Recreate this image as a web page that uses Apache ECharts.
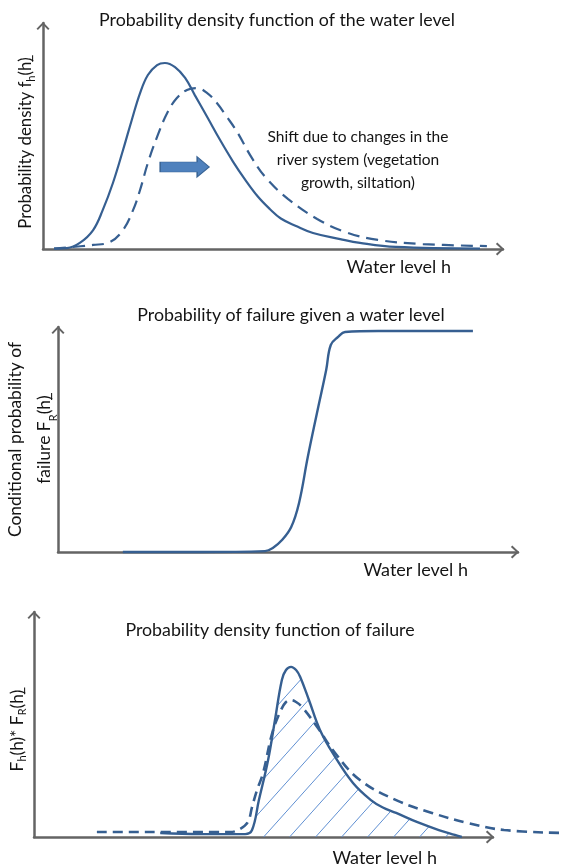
<!DOCTYPE html>
<html><head><meta charset="utf-8">
<script src="https://cdn.jsdelivr.net/npm/echarts@6/dist/echarts.min.js"></script>
<style>html,body{margin:0;padding:0;background:#fff}#c{width:564px;height:868px}</style>
</head><body><div id="c"></div>
<script>
// All values in arbitrary units: water level 0-100, vertical quantity 0-100.
// Panel 1: probability density of the water level (current and shifted)
const pdfCurrent = [[2.4,0.2],[5.2,0.4],[8.0,2.7],[10.9,8.4],[13.0,17.3],[15.2,29.2],[17.4,43.8],[19.3,57.1],[21.1,69.0],[22.8,77.0],[24.8,81.4],[26.5,82.3],[28.7,80.5],[30.9,75.7],[33.0,68.1],[35.7,58.4],[38.5,48.2],[41.3,38.7],[43.9,30.8],[46.7,23.2],[49.3,17.7],[51.7,13.5],[55.0,10.2],[58.7,7.1],[64.6,4.4],[68.9,2.7],[76.7,0.9],[95,0.2]];
const pdfShifted = [[2.4,0.2],[10.9,1.8],[14.6,3.1],[17.4,8.4],[19.6,17.3],[21.1,26.1],[22.8,38.1],[24.8,49.6],[27.0,60.2],[29.1,66.8],[31.3,70.4],[33.5,71.2],[35.7,69.0],[37.8,64.6],[40.0,58.4],[42.2,51.8],[45.4,40.3],[48.5,31.4],[53.3,22.1],[59.6,13.3],[65.7,7.5],[72.8,4.0],[82.6,2.2],[96.5,1.3]];
// Panel 2: conditional probability of failure (fragility curve)
const fragility = [[14.1,0],[30.9,0],[45.0,0.4],[46.7,1.8],[48.7,5.3],[50.7,11.1],[52.4,21.8],[54.3,42.2],[56.3,61.8],[58.3,80.9],[59.3,92.0],[60.9,95.6],[62.4,97.8],[69.6,98.2],[90.2,98.2]];
// Panel 3: probability density of failure (current and shifted)
const failCurrent = [[27.5,1.8],[36.2,1.3],[46.0,1.3],[47.5,3.1],[49.0,16.4],[51.0,34.2],[52.5,52.0],[54.0,69.8],[54.9,74.2],[56.0,75.6],[57.1,74.2],[58.0,71.1],[59.9,60.9],[62.3,47.6],[65.6,35.6],[69.5,24.0],[73.4,16.4],[76.0,13.1],[78.9,10.7],[83.4,6.7],[88.2,3.1],[91.7,0.9],[93.2,0]];
const failShifted = [[13.7,2.2],[42.7,2.2],[44.9,3.6],[46.6,6.7],[47.5,13.3],[48.6,20.9],[49.9,28.4],[51.9,46.2],[53.8,56.4],[54.9,60.0],[56.0,60.9],[57.1,60.0],[58.4,57.8],[61.7,48.9],[65.6,37.3],[71.0,25.3],[78.9,16.4],[86.7,10.7],[94.6,6.2],[102.4,3.1],[114.8,1.8]];
// Text
const titles = ['Probability density function of the water level','Probability of failure given a water level','Probability density function of failure'];
const shiftNote = ['Shift due to changes in the','river system (vegetation','growth, siltation)'];
const xName = 'Water level h';
const yNames = ['Probability density f{s|h}(h\u0332)','Conditional probability of\nfailure F{s|R}(h\u0332)','F{s|h}(h)* F{s|R}(h\u0332)'];

const FONT = 'Lato, "Open Sans", sans-serif';
const TXT = '#141414';
const AXC = '#646464';
const CURVE = '#365f91';
const chevron = 'path://M6.5,0 L13,6.8 L11.6,8.2 L6.5,2.8 L1.4,8.2 L0,6.8 Z';
const blockArrow = 'path://M0,5 L37,5 L37,0 L49,10 L37,20 L37,15 L0,15 Z';

function hatch() {
  const c = document.createElement('canvas'); c.width = 26; c.height = 29;
  const g = c.getContext('2d'); g.strokeStyle = '#5f8fd2'; g.lineWidth = 1;
  g.beginPath(); g.moveTo(0, 29); g.lineTo(26, 0); g.stroke();
  return c;
}
function axLine() {
  return { show: true, onZero: false, symbol: ['none', chevron], symbolSize: [13, 9], symbolOffset: [0, -3],
    lineStyle: { color: AXC, width: 2.5 } };
}
const grids = [
  { left: 43, top: 23, width: 460, height: 226 },
  { left: 58, top: 327, width: 460, height: 225 },
  { left: 34, top: 612, width: 459, height: 225 },
  { left: 34, top: 612, width: 573.75, height: 225 } // same scale as panel 3, wider: lets the shifted curve run past the arrow
].map(g => Object.assign({ outerBoundsMode: 'none', containLabel: false }, g));
const xPads = [9, 9, 12];
const yGaps = [6, -1, 6], yLH = [22, 29, 22], yFS = [16.8, 17.5, 17.3], yPad = [[0, 14, 0, 0], 0, [0, 12, 0, 0]];
const xGaps = [-52, -50, -56];
const xAxis = grids.slice(0, 3).map((g, i) => ({ type: 'value', gridIndex: i, min: 0, max: 100, axisLine: axLine(),
  axisTick: { show: false }, axisLabel: { show: false }, splitLine: { show: false },
  name: xName, nameLocation: 'end', nameGap: xGaps[i],
  nameTextStyle: { align: 'right', verticalAlign: 'top', padding: [xPads[i], 0, 0, 0], fontSize: 18, color: TXT, fontFamily: FONT } }));
xAxis.push({ type: 'value', gridIndex: 3, min: 0, max: 125, show: false });
const yAxis = grids.slice(0, 3).map((g, i) => ({ type: 'value', gridIndex: i, min: 0, max: 100, axisLine: axLine(),
  axisTick: { show: false }, axisLabel: { show: false }, splitLine: { show: false },
  name: yNames[i], nameLocation: 'middle', nameRotate: 90, nameGap: yGaps[i],
  nameTextStyle: { fontSize: yFS[i], lineHeight: yLH[i], color: TXT, fontFamily: FONT, padding: yPad[i],
    rich: { s: { fontSize: 11, lineHeight: yLH[i] - 10, verticalAlign: 'bottom', color: TXT, fontFamily: FONT } } } }));
yAxis.push({ type: 'value', gridIndex: 3, min: 0, max: 100, show: false });

const lineBase = (data, gi, dashed, w) => ({ type: 'line', xAxisIndex: gi, yAxisIndex: gi, data, smooth: 0.4,
  showSymbol: false, silent: true, clip: false, z: 3,
  lineStyle: { color: CURVE, width: w || 2.2, type: dashed || 'solid', cap: 'butt' } });

const option = {
  animation: false,
  backgroundColor: '#ffffff',
  title: [
    { text: titles[0], left: 277, top: 20 },
    { text: titles[1], left: 291, top: 315 },
    { text: titles[2], left: 270, top: 630 },
    { text: shiftNote.join('\n'), left: 358, top: 160, lh: 23, fs: 15.5 }
  ].map(t => ({ text: t.text, left: t.left, top: t.top, textAlign: 'center', textVerticalAlign: 'middle', padding: 0,
    textStyle: { fontSize: t.fs || 17.8, fontWeight: 'normal', color: TXT, fontFamily: FONT, lineHeight: t.lh || 22 } })),
  grid: grids,
  xAxis, yAxis,
  series: [
    Object.assign(lineBase(pdfCurrent, 0), {
      markPoint: { silent: true, label: { show: false }, data: [{ coord: [30.8, 36.3], symbol: blockArrow, symbolSize: [49, 20],
        itemStyle: { color: '#4f81bd', borderColor: '#3a6596', borderWidth: 1 } }] } }),
    lineBase(pdfShifted, 0, [12, 7]),
    lineBase(fragility, 1, null, 2.4),
    { type: 'line', xAxisIndex: 2, yAxisIndex: 2, data: failCurrent.filter(p => p[0] >= 46), smooth: 0.4,
      showSymbol: false, silent: true, z: 2, lineStyle: { width: 0, opacity: 0 }, areaStyle: { color: { image: hatch(), repeat: 'repeat' }, opacity: 1 } },
    lineBase(failCurrent, 2, null, 2.4),
    lineBase(failShifted, 3, [10, 6], 2.6)
  ]
};
const chart = echarts.init(document.getElementById('c'), null, { renderer: 'canvas' });
chart.setOption(option);
</script></body></html>
